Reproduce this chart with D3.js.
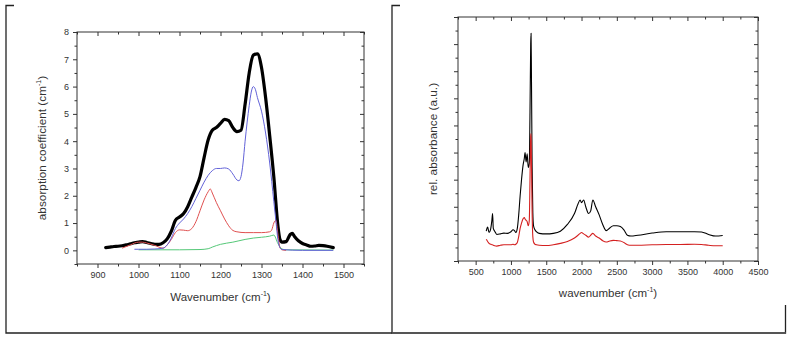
<!DOCTYPE html>
<html><head><meta charset="utf-8">
<script src="https://cdn.jsdelivr.net/npm/d3@7"></script>
<style>
body{margin:0;background:#fff}
svg{display:block}
text{font-family:"Liberation Sans",Arial,sans-serif}
</style>
</head><body>
<svg id="c" width="792" height="338"></svg>
<script>
// ---------- Left panel data ----------
const leftXTicks = [900,1000,1100,1200,1300,1400,1500];
const leftYTicks = [0,1,2,3,4,5,6,7,8];

const measX = [920,930,940,950,960,970,980,990,1000,1010,1020,1030,1040,1050,1060,1070,1080,1090,1100,1110,
  1120,1130,1140,1150,1160,1170,1180,1190,1200,1210,1220,1230,1240,1250,1260,1270,1280,1290,1300,1310,
  1320,1330,1340,1345,1350,1360,1370,1375,1380,1390,1400,1410,1420,1430,1440,1450,1460,1475];
const measY = [0.1,0.12,0.14,0.15,0.17,0.2,0.24,0.28,0.3,0.32,0.29,0.25,0.22,0.22,0.28,0.42,0.7,1.1,1.22,1.35,
  1.6,1.95,2.3,2.7,3.4,4.05,4.4,4.5,4.65,4.8,4.75,4.5,4.35,4.4,5.35,6.5,7.15,7.2,6.7,5.6,
  4.2,2.7,0.9,0.4,0.3,0.32,0.58,0.62,0.52,0.35,0.25,0.2,0.15,0.16,0.18,0.17,0.15,0.1];

const blueX = [990,1000,1020,1040,1060,1070,1080,1090,1100,1110,1120,1130,1140,1150,1160,1170,1180,1190,1200,1210,
  1220,1230,1240,1245,1250,1255,1260,1265,1270,1275,1280,1285,1290,1300,1310,1320,1330,1335,1340,1345,1350,1400,1475];
const blueY = [0.04,0.04,0.04,0.05,0.08,0.2,0.45,0.8,1.0,1.15,1.35,1.6,1.9,2.2,2.5,2.75,2.92,3.0,3.0,3.02,
  2.98,2.8,2.58,2.55,2.7,3.2,4.0,4.7,5.3,5.8,6.0,5.9,5.6,5.1,4.3,3.2,1.8,1.1,0.4,0.1,0.03,0.0,0.0];

const redX = [960,980,1000,1010,1020,1040,1060,1070,1080,1090,1100,1110,1120,1130,1140,1150,1160,1170,1175,1180,
  1190,1200,1210,1220,1230,1240,1260,1280,1300,1320,1325,1330,1335,1340,1345,1350,1360];
const redY = [0.08,0.2,0.3,0.3,0.27,0.18,0.08,0.2,0.4,0.65,0.75,0.74,0.72,0.8,1.05,1.45,1.85,2.15,2.25,2.1,
  1.75,1.45,1.15,0.9,0.73,0.68,0.65,0.65,0.65,0.68,0.75,1.0,1.1,0.6,0.1,0.02,0.0];

const greenX = [1000,1100,1150,1170,1180,1200,1230,1260,1280,1300,1320,1330,1340,1350,1360,1475];
const greenY = [0.02,0.02,0.03,0.06,0.12,0.22,0.3,0.4,0.45,0.48,0.52,0.56,0.25,0.05,0.02,0.01];

// ---------- Right panel data ----------
const rightXTicks = [500,1000,1500,2000,2500,3000,3500,4000,4500];
const rightYTicks = [0,1,2,3,4,5,6,7,8,9];

const specX = [650,670,690,710,730,740,750,770,800,850,
  900,950,1000,1030,1050,1070,1090,1110,1130,1150,
  1170,1190,1200,1215,1230,1245,1260,1270,1280,1285,
  1290,1300,1310,1320,1340,1360,1400,1500,1600,1700,
  1800,1900,1950,1980,2000,2030,2060,2100,2130,2160,
  2200,2250,2300,2350,2400,2450,2500,2550,2600,2650,
  2700,2800,3000,3200,3400,3600,3700,3800,3900,4000];
const blackY = [1.1,1.25,1.05,1.15,1.5,1.75,1.2,1.1,0.98,1.0,
  1.03,1.02,1.08,1.15,1.12,1.05,1.2,1.7,2.4,3.0,
  3.5,3.8,4.0,3.65,3.95,3.45,3.6,5.5,8.0,8.4,
  7.0,3.5,1.8,1.3,1.15,1.08,1.02,1.0,1.02,1.1,
  1.35,1.75,2.1,2.25,2.15,2.25,2.0,1.75,1.85,2.25,
  2.0,1.7,1.35,1.12,1.22,1.3,1.3,1.27,1.15,0.95,
  0.92,0.95,1.03,1.08,1.08,1.08,1.07,0.98,0.92,0.94];
const redY2 = [0.8,0.72,0.65,0.62,0.6,0.6,0.58,0.56,0.55,0.58,
  0.6,0.6,0.6,0.62,0.6,0.62,0.68,0.9,1.2,1.4,
  1.55,1.6,1.55,1.5,1.45,1.3,1.5,3.0,4.6,4.7,
  3.8,1.8,0.9,0.7,0.62,0.6,0.58,0.57,0.6,0.65,
  0.72,0.85,0.95,1.02,1.05,1.0,0.95,0.88,0.95,1.02,
  0.92,0.85,0.75,0.7,0.74,0.76,0.75,0.74,0.68,0.6,
  0.58,0.58,0.6,0.61,0.61,0.62,0.61,0.58,0.56,0.56];

const svg = d3.select("#c");
const ink = "#333";

// page frame lines
const frame = svg.append("g").attr("stroke", "#222").attr("stroke-width", 1.3).attr("fill", "none");
frame.append("path").attr("d", "M14,5.5H6V333H392");
frame.append("path").attr("d", "M400,5.5H392V333H785.5V305");
frame.append("path").attr("d", "M392,333H786").attr("stroke", "#555");

function panel(opt) {
  const {x0, x1, y0, y1, xDom, yDom, xTicks, xMinor, yTicks, yMinor, showY, xTitle, yTitle, xTitleY, yTitleX} = opt;
  const x = d3.scaleLinear().domain(xDom).range([x0, x1]);
  const y = d3.scaleLinear().domain(yDom).range([y1, y0]);
  const g = svg.append("g");
  function styleAxis(sel) {
    sel.select(".domain").remove();
    sel.selectAll("line").attr("stroke", ink).attr("stroke-width", 1);
    sel.selectAll("text").attr("fill", ink).style("font-size", "9px");
  }
  g.append("g").attr("transform", `translate(0,${y1})`)
    .call(d3.axisBottom(x).tickValues(xTicks).tickSize(4).tickPadding(4).tickFormat(d3.format("d"))).call(styleAxis);
  g.append("g").attr("transform", `translate(0,${y1})`)
    .call(d3.axisBottom(x).tickValues(xMinor).tickSize(2.5).tickFormat("")).call(styleAxis);
  g.append("g").attr("transform", `translate(0,${y0})`)
    .call(d3.axisBottom(x).tickValues(xTicks).tickSize(4).tickFormat("")).call(styleAxis);
  g.append("g").attr("transform", `translate(0,${y0})`)
    .call(d3.axisBottom(x).tickValues(xMinor).tickSize(2.5).tickFormat("")).call(styleAxis);
  g.append("g").attr("transform", `translate(${x0},0)`)
    .call(d3.axisLeft(y).tickValues(yTicks).tickSize(4).tickPadding(4).tickFormat(showY ? d3.format("d") : "")).call(styleAxis);
  g.append("g").attr("transform", `translate(${x0},0)`)
    .call(d3.axisLeft(y).tickValues(yMinor).tickSize(2.5).tickFormat("")).call(styleAxis);
  g.append("g").attr("transform", `translate(${x1},0)`)
    .call(d3.axisLeft(y).tickValues(yTicks).tickSize(4).tickFormat("")).call(styleAxis);
  g.append("g").attr("transform", `translate(${x1},0)`)
    .call(d3.axisLeft(y).tickValues(yMinor).tickSize(2.5).tickFormat("")).call(styleAxis);
  g.append("rect").attr("x", x0).attr("y", y0).attr("width", x1 - x0).attr("height", y1 - y0)
    .attr("fill", "none").attr("stroke", ink).attr("stroke-width", 1);

  const xt = g.append("text").attr("x", (x0 + x1) / 2).attr("y", xTitleY).attr("text-anchor", "middle")
    .attr("fill", ink).style("font-size", "11.5px");
  xt.append("tspan").text(xTitle + " (cm");
  xt.append("tspan").attr("dy", -5).style("font-size", "7px").text("-1");
  xt.append("tspan").attr("dy", 5).text(")");

  const yt = g.append("text").attr("transform", `translate(${yTitleX},${(y0 + y1) / 2}) rotate(-90)`)
    .attr("text-anchor", "middle").attr("fill", ink).style("font-size", "11.8px");
  if (opt.yUnit) {
    yt.append("tspan").text(yTitle + " (cm");
    yt.append("tspan").attr("dy", -5).style("font-size", "7px").text("-1");
    yt.append("tspan").attr("dy", 5).text(")");
  } else {
    yt.text(yTitle);
  }
  return {x, y, g};
}

function range(a, b, s) { const r = []; for (let v = a; v <= b + 1e-9; v += s) r.push(v); return r; }

const L = panel({
  x0: 77, x1: 364, y0: 32, y1: 264,
  xDom: [850, 1550], yDom: [-0.5, 8],
  xTicks: leftXTicks, xMinor: range(850, 1550, 50).filter(v => !leftXTicks.includes(v)),
  yTicks: leftYTicks, yMinor: range(-0.5, 7.5, 1),
  showY: true, xTitle: "Wavenumber", yTitle: "absorption coefficient", yUnit: true,
  xTitleY: 301, yTitleX: 46
});
const lineL = (xs, ys) => d3.line().x((d, i) => L.x(xs[i])).y(d => L.y(d)).curve(d3.curveMonotoneX)(ys);
L.g.append("path").attr("d", lineL(measX, measY)).attr("fill", "none").attr("stroke", "#000")
  .attr("stroke-width", 3.2).attr("stroke-linejoin", "round").attr("stroke-linecap", "round");
L.g.append("path").attr("d", lineL(greenX, greenY)).attr("fill", "none").attr("stroke", "#55c878").attr("stroke-width", 1);
L.g.append("path").attr("d", lineL(redX, redY)).attr("fill", "none").attr("stroke", "#e05050").attr("stroke-width", 1);
L.g.append("path").attr("d", lineL(blueX, blueY)).attr("fill", "none").attr("stroke", "#6262d8").attr("stroke-width", 1);

const R = panel({
  x0: 458, x1: 758, y0: 17, y1: 261,
  xDom: [250, 4500], yDom: [0, 9],
  xTicks: rightXTicks, xMinor: range(250, 4500, 250).filter(v => !rightXTicks.includes(v)),
  yTicks: rightYTicks, yMinor: range(0.5, 8.5, 1),
  showY: false, xTitle: "wavenumber", yTitle: "rel. absorbance (a.u.)", yUnit: false,
  xTitleY: 297, yTitleX: 437
});
const lineR = (xs, ys) => d3.line().x((d, i) => R.x(xs[i])).y(d => R.y(d)).curve(d3.curveMonotoneX)(ys);
R.g.append("path").attr("d", lineR(specX, blackY)).attr("fill", "none").attr("stroke", "#000")
  .attr("stroke-width", 1.1).attr("stroke-linejoin", "round");
R.g.append("path").attr("d", lineR(specX, redY2)).attr("fill", "none").attr("stroke", "#d42020")
  .attr("stroke-width", 1.1).attr("stroke-linejoin", "round");
</script>
</body></html>
